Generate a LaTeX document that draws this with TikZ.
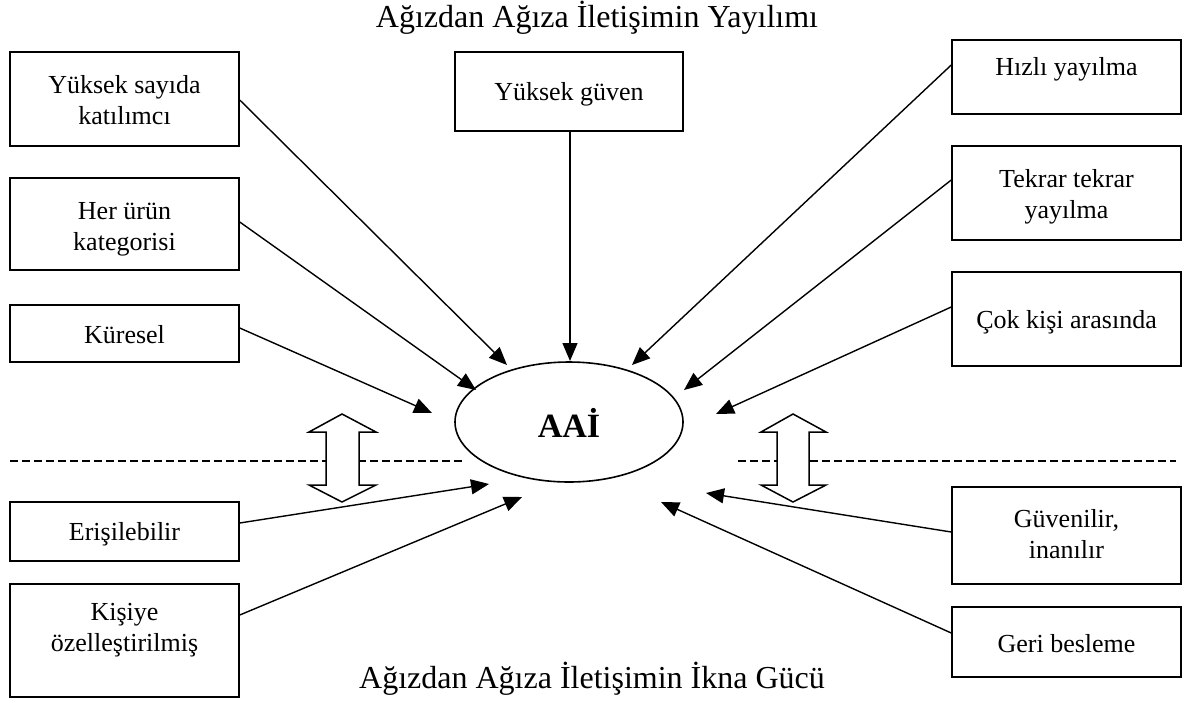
\documentclass[tikz,border=0pt]{standalone}
\usepackage{fontspec}
\setmainfont{Liberation Serif}
\usetikzlibrary{arrows.meta,shapes.geometric}

\tikzset{
  box/.style={draw, line width=1.5pt, minimum width=229pt, inner sep=0pt},
  txt/.style={anchor=base, align=center, inner sep=0pt, font=\fontsize{26}{31}\selectfont},
  ttl/.style={anchor=base, inner sep=0pt, font=\fontsize{32}{38}\selectfont},
  conn/.style={line width=1.4pt, -{Triangle[length=18pt,width=15pt]}},
  divider/.style={line width=1.3pt, dash pattern=on 8pt off 4pt},
  dblarrow/.style={draw, fill=white, line width=1.5pt, line join=miter}
}

\begin{document}
\begin{tikzpicture}[x=1pt, y=-1pt]
\useasboundingbox (0,0) rectangle (1188,702);

% titles
\node[ttl] (ttop) at (597,27) {Ağızdan Ağıza İletişimin Yayılımı};
\node[ttl] (tbot) at (592,688) {Ağızdan Ağıza İletişimin İkna Gücü};

% dividing dashed lines
\coordinate (dl1) at (10,461);
\coordinate (dl2) at (465,461);
\coordinate (dr1) at (738,461);
\coordinate (dr2) at (1176,461);
\draw[divider] (dl1) -- (dl2);
\draw[divider] (dr1) -- (dr2);

% central ellipse
\node[draw, ellipse, line width=1.6pt, minimum width=228pt, minimum height=120pt, inner sep=0pt] (aai) at (569,422) {};
\node[anchor=base, inner sep=0pt, font=\fontsize{34}{40}\selectfont\bfseries] (aait) at (569,437) {AAİ};

% left column boxes
\node[box, minimum height=94pt]  (l1) at (124.5,99)   {};
\node[box, minimum height=92pt]  (l2) at (124.5,224)  {};
\node[box, minimum height=57pt]  (l3) at (124.5,333.5){};
\node[box, minimum height=59pt]  (l4) at (124.5,531.5){};
\node[box, minimum height=113pt] (l5) at (124.5,640.5){};
% (for two-line labels the base anchor sits on the last line)
\node[txt] (l1t) at (124.5,124) {Yüksek sayıda\\katılımcı};
\node[txt] (l2t) at (124.5,250) {Her ürün\\kategorisi};
\node[txt] (l3t) at (124.5,343) {Küresel};
\node[txt] (l4t) at (124.5,540) {Erişilebilir};
\node[txt] (l5t) at (124.5,651) {Kişiye\\özelleştirilmiş};

% top middle box
\node[box, minimum width=228pt, minimum height=79pt] (m1) at (569,91.5) {};
\node[txt] (m1t) at (569,100) {Yüksek güven};

% right column boxes
\node[box, minimum height=74pt] (r1) at (1066.5,77)    {};
\node[box, minimum height=94pt] (r2) at (1066.5,193)   {};
\node[box, minimum height=94pt] (r3) at (1066.5,319)   {};
\node[box, minimum height=97pt] (r4) at (1066.5,535.5) {};
\node[box, minimum height=70pt] (r5) at (1066.5,642)   {};
\node[txt] (r1t) at (1066.5,75)  {Hızlı yayılma};
\node[txt] (r2t) at (1066.5,218) {Tekrar tekrar\\yayılma};
\node[txt] (r3t) at (1066.5,328) {Çok kişi arasında};
\node[txt] (r4t) at (1066.5,558) {Güvenilir,\\inanılır};
\node[txt] (r5t) at (1066.5,652) {Geri besleme};

% arrow tips around the ellipse
\coordinate (a1) at (507,365);
\coordinate (a2) at (476,390);
\coordinate (a3) at (432,413);
\coordinate (a4) at (489,484);
\coordinate (a5) at (522,497);
\coordinate (am) at (570,361);
\coordinate (b1) at (632,365);
\coordinate (b2) at (684,390);
\coordinate (b3) at (716,414);
\coordinate (b4) at (706,493);
\coordinate (b5) at (661,502);

% connectors
\draw[conn] (l1.east |- 0,100) -- (a1);
\draw[conn] (l2.east |- 0,222) -- (a2);
\draw[conn] (l3.east |- 0,328) -- (a3);
\draw[conn] (l4.east |- 0,523) -- (a4);
\draw[conn] (l5.east |- 0,615) -- (a5);
\draw[conn] (m1.south -| am) -- (am);
\draw[conn] (r1.west |- 0,65)  -- (b1);
\draw[conn] (r2.west |- 0,180) -- (b2);
\draw[conn] (r3.west |- 0,307) -- (b3);
\draw[conn] (r4.west |- 0,532) -- (b4);
\draw[conn] (r5.west |- 0,633) -- (b5);

% double-headed block arrows across the dividers
\draw[dblarrow] (342,414) -- (376,432) -- (359,432) -- (359,485) -- (376,485)
  -- (342,502) -- (309,485) -- (326,485) -- (326,432) -- (309,432) -- cycle;
\draw[dblarrow] (793,414) -- (826,432) -- (809,432) -- (809,485) -- (826,485)
  -- (793,502) -- (761,485) -- (777,485) -- (777,432) -- (761,432) -- cycle;
\end{tikzpicture}
\end{document}
